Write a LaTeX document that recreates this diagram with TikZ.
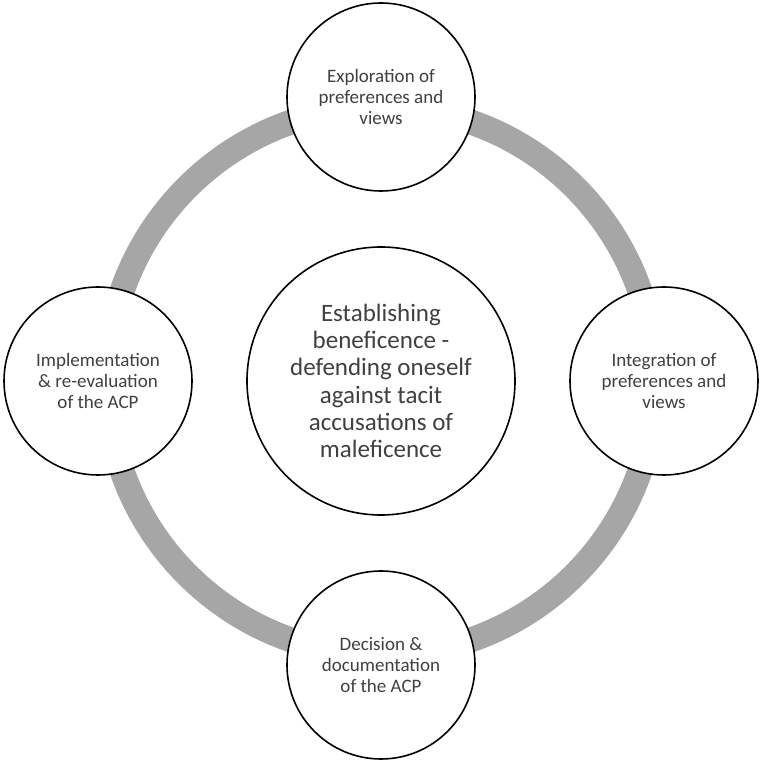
\documentclass[tikz,border=0pt]{standalone}
\usepackage{fontspec}
\setmainfont{Carlito}
\definecolor{ringgray}{RGB}{166,166,166}
\definecolor{txtgray}{RGB}{64,64,64}
\tikzset{
  ringline/.style={draw=ringgray, line width=25pt},
  satellite/.style={circle, draw=black, line width=1.6pt, fill=white, minimum size=188pt, inner sep=0pt, align=center, text=txtgray, font=\fontsize{19}{20.7}\selectfont},
  hub/.style={circle, draw=black, line width=1.6pt, fill=white, minimum size=268pt, inner sep=0pt, align=center, text=txtgray, font=\fontsize{25}{27.3}\selectfont}
}
\begin{document}
\begin{tikzpicture}[x=1pt,y=1pt]
\useasboundingbox (0,0) rectangle (760,761);
\coordinate (mid) at (381,380);
\draw[ringline] (mid) circle[radius=274];
\node[hub] (center) at (mid) {Establishing\\beneficence -\\defending oneself\\against tacit\\accusations of\\maleficence};
\node[satellite] (top) at (381,664) {Exploration of\\preferences and\\views};
\node[satellite] (right) at (664,380) {Integration of\\preferences and\\views};
\node[satellite] (bottom) at (381,96) {Decision \&\\documentation\\of the ACP};
\node[satellite] (left) at (98,380) {Implementation\\\& re-evaluation\\of the ACP};
\end{tikzpicture}
\end{document}
